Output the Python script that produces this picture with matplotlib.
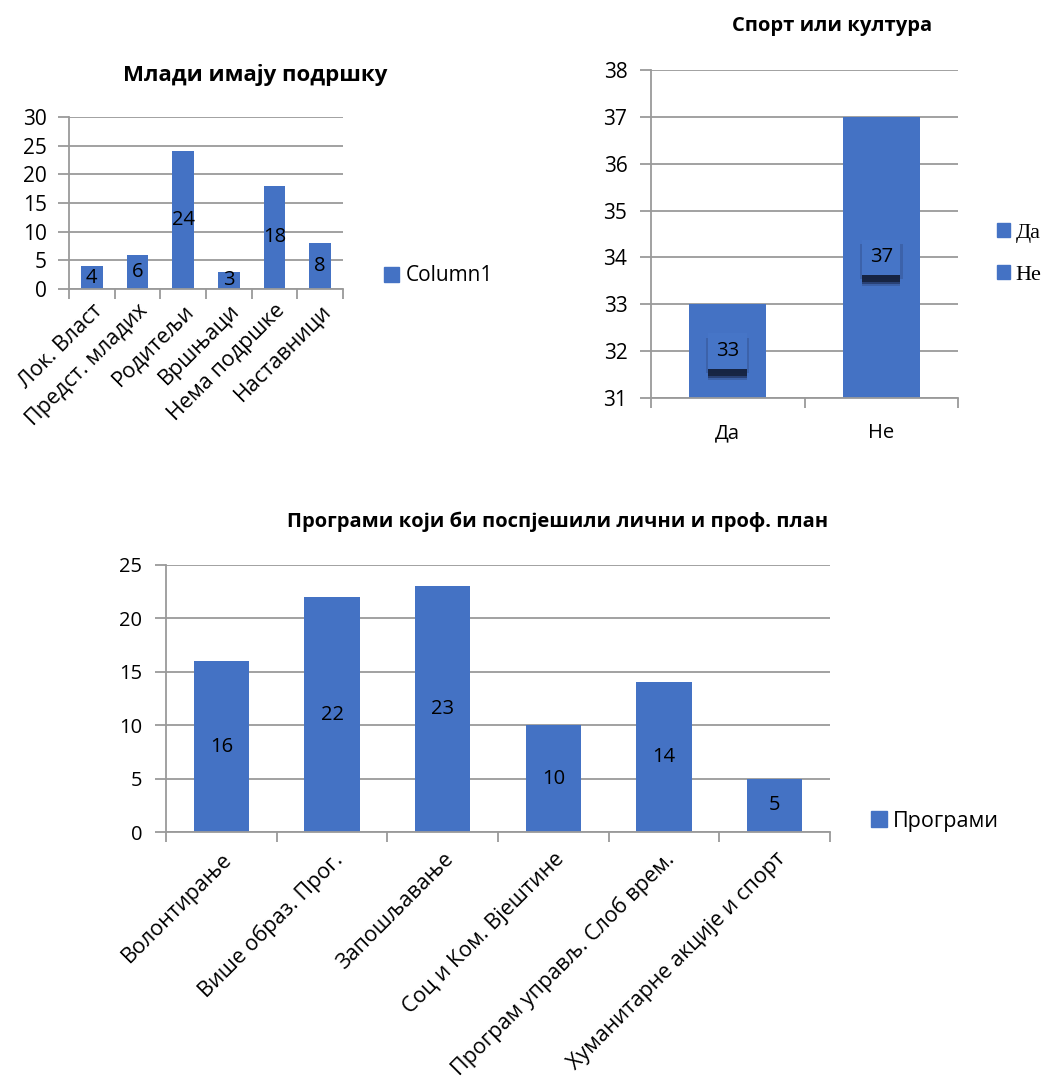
import matplotlib.pyplot as plt
import matplotlib.patheffects as pe
from matplotlib.patches import Patch

plt.rcParams['font.family'] = ['Open Sans', 'DejaVu Sans']

# chart 1
support_cats = ['Лок. Власт', 'Предст. младих', 'Родитељи', 'Вршњаци', 'Нема подршке', 'Наставници']
support_vals = [4, 6, 24, 3, 18, 8]
support_ticks = [0, 5, 10, 15, 20, 25, 30]

# chart 2
sport_cats = ['Да', 'Не']
sport_vals = [33, 37]
sport_ticks = [31, 32, 33, 34, 35, 36, 37, 38]

# chart 3
prog_cats = ['Волонтирање', 'Више образ. Прог.', 'Запошљавање', 'Соц и Ком. Вјештине',
             'Програм управљ. Слоб врем.', 'Хуманитарне акције и спорт']
prog_vals = [16, 22, 23, 10, 14, 5]
prog_ticks = [0, 5, 10, 15, 20, 25]

BLUE = '#4472C4'
GRID = '#9a9a9a'
W, H = 1047, 1080

fig = plt.figure(figsize=(W / 100, H / 100), dpi=100)


def box(l, t, r, b):
    return [l / W, (H - b) / H, (r - l) / W, (b - t) / H]


def style(ax, ticks, n, fs, ypad):
    ax.set_ylim(ticks[0], ticks[-1])
    ax.set_yticks(ticks)
    ax.set_xlim(-0.5, n - 0.5)
    ax.set_xticks([i - 0.5 for i in range(n + 1)], minor=True)
    ax.set_xticks(range(n))
    ax.tick_params(axis='x', which='major', length=0, pad=6)
    ax.tick_params(axis='x', which='minor', length=7, color=GRID, width=1.3)
    ax.tick_params(axis='y', length=8, color=GRID, width=1.3, labelsize=fs, pad=ypad)
    ax.grid(axis='y', color=GRID, lw=1.3)
    ax.set_axisbelow(True)
    for s in ['top', 'right']:
        ax.spines[s].set_visible(False)
    for s in ['left', 'bottom']:
        ax.spines[s].set_color(GRID)
        ax.spines[s].set_linewidth(1.3)


# ---- chart 1
ax1 = fig.add_axes(box(69, 117, 343, 289))
x1 = range(len(support_cats))
ax1.bar(x1, support_vals, width=0.48, color=BLUE, zorder=2)
style(ax1, support_ticks, len(support_cats), 15, 8)
ax1.set_xticklabels(support_cats, rotation=45, ha='right', rotation_mode='anchor', fontsize=15.5)
ax1.tick_params(axis='x', which='major', pad=8)
for i, v in zip(x1, support_vals):
    ax1.text(i, v / 2, str(v), ha='center', va='center', fontsize=14.5, zorder=3)
ax1.set_title('Млади имају подршку', fontsize=16, fontweight='bold', pad=26, x=0.68)
ax1.legend(handles=[Patch(color=BLUE, label='Column1')], loc='center left',
           bbox_to_anchor=(1.11, 0.076), frameon=False, fontsize=15,
           handlelength=0.75, handleheight=0.75, handletextpad=0.3, borderpad=0)

# ---- chart 2
ax2 = fig.add_axes(box(651, 70, 958, 398))
x2 = range(len(sport_cats))
ax2.bar(x2, sport_vals, width=0.5, color=BLUE, zorder=2)
style(ax2, sport_ticks, len(sport_cats), 15, 9)
ax2.set_xticklabels(sport_cats, fontsize=14.5)
ax2.tick_params(axis='x', which='major', pad=18)
for i, v in zip(x2, sport_vals):
    t = ax2.text(i, (sport_ticks[0] + v) / 2, str(v), ha='center', va='center', fontsize=14.5, zorder=3,
                 bbox=dict(boxstyle='square,pad=0.38', fc='#4675c7', ec='none'))
    t.get_bbox_patch().set_path_effects([
        pe.SimplePatchShadow(offset=(1.5, -3), shadow_rgbFace='#2b4070', alpha=0.3),
        pe.SimplePatchShadow(offset=(-1.5, -3), shadow_rgbFace='#2b4070', alpha=0.3),
        pe.SimplePatchShadow(offset=(0, -8), shadow_rgbFace='#2b4070', alpha=0.35),
        pe.SimplePatchShadow(offset=(0, -6.5), shadow_rgbFace='#1d2d55', alpha=0.6),
        pe.SimplePatchShadow(offset=(0, -5), shadow_rgbFace='#15223f', alpha=0.9),
        pe.Normal()])
ax2.set_title('Спорт или култура', fontsize=14.5, fontweight='bold', pad=28, x=0.59)
ax2.legend(handles=[Patch(color=BLUE, label=c) for c in sport_cats], loc='center left',
           bbox_to_anchor=(1.09, 0.44), frameon=False,
           prop={'family': ['Liberation Serif'], 'size': 16},
           handlelength=0.6, handleheight=0.6, handletextpad=0.25, borderpad=0, labelspacing=1.0)

# ---- chart 3
ax3 = fig.add_axes(box(166, 565, 830, 832))
x3 = range(len(prog_cats))
ax3.bar(x3, prog_vals, width=0.5, color=BLUE, zorder=2)
style(ax3, prog_ticks, len(prog_cats), 14.5, 9)
ax3.set_xticklabels(prog_cats, rotation=45, ha='right', rotation_mode='anchor', fontsize=15.5)
ax3.tick_params(axis='x', which='major', pad=12)
for i, v in zip(x3, prog_vals):
    ax3.text(i, v / 2, str(v), ha='center', va='center', fontsize=14.5, zorder=3)
ax3.set_title('Програми који би поспјешили лични и проф. план', fontsize=14.5, fontweight='bold',
              pad=27, x=0.59)
ax3.legend(handles=[Patch(color=BLUE, label='Програми')], loc='center left',
           bbox_to_anchor=(1.045, 0.041), frameon=False, fontsize=15.5,
           handlelength=0.75, handleheight=0.75, handletextpad=0.3, borderpad=0)

fig.savefig('out.png', dpi=100)
